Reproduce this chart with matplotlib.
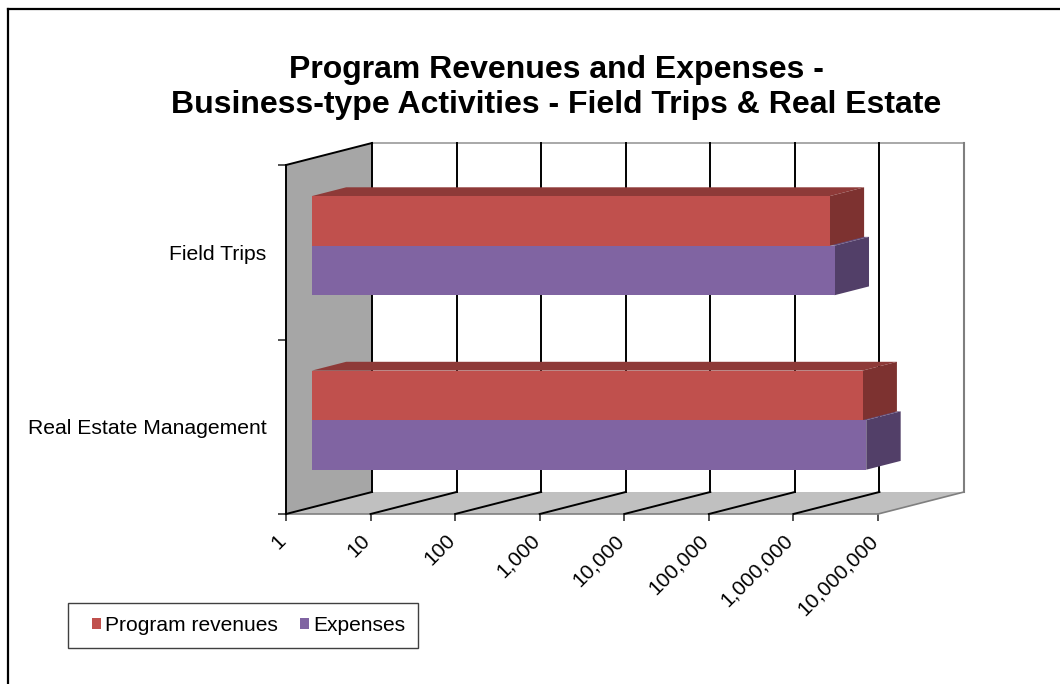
import numpy as np
import matplotlib.pyplot as plt
from matplotlib.patches import Polygon, Patch, Rectangle
from matplotlib.lines import Line2D
from matplotlib.transforms import ScaledTranslation, IdentityTransform

plt.rcParams['font.family'] = ['Liberation Sans', 'DejaVu Sans']

categories = ["Field Trips", "Real Estate Management"]
revenues = [1330000, 3250000]
expenses = [1520000, 3600000]
decades = [1, 10, 100, 1000, 10000, 100000, 1000000, 10000000]
tick_labels = ["1", "10", "100", "1,000", "10,000", "100,000", "1,000,000", "10,000,000"]

red, red_top, red_side = "#C0504D", "#8E3A38", "#7D3230"
pur, pur_top, pur_side = "#8064A2", "#65507F", "#523F68"

W, H = 1060, 684
fig = plt.figure(figsize=(W / 100, H / 100), dpi=100)
ax = fig.add_axes([286 / W, (H - 514) / H, 592 / W, 349 / H])
ax.set_xscale("log")
ax.set_xlim(1, 1e7)
ax.set_ylim(0, 2)

# depth of the fake 3d box, in pixels
DX, DY = 86, 22
D0, D1 = 0.3, 0.7  # bar front / back depth
ident = IdentityTransform()


def P(x, y, d):
    p = ax.transData.transform((x, y))
    return (p[0] + d * DX, p[1] + d * DY)


def poly(pts, fc, ec="none", lw=0, z=1):
    ax.add_patch(Polygon(pts, closed=True, fc=fc, ec=ec, lw=lw,
                         transform=ident, clip_on=False, zorder=z))


def line(a, b, c="black", lw=1.4, z=2):
    ax.add_line(Line2D([a[0], b[0]], [a[1], b[1]], color=c, lw=lw,
                       transform=ident, clip_on=False, zorder=z))


xmin, xmax = decades[0], decades[-1]
# walls and floor
poly([P(xmin, 0, 0), P(xmax, 0, 0), P(xmax, 0, 1), P(xmin, 0, 1)], "#C0C0C0")
poly([P(xmin, 0, 0), P(xmin, 2, 0), P(xmin, 2, 1), P(xmin, 0, 1)], "#A6A6A6")
poly([P(xmin, 0, 1), P(xmax, 0, 1), P(xmax, 2, 1), P(xmin, 2, 1)], "white")
line(P(xmin, 2, 1), P(xmax, 2, 1), c="#9A9A9A", lw=1.2)
line(P(xmax, 0, 1), P(xmax, 2, 1), c="#7F7F7F", lw=1.5)
line(P(xmax, 0, 0), P(xmax, 0, 1), c="#7F7F7F", lw=1.2)
line(P(xmin, 0, 0), P(xmax, 0, 0), c="#808080", lw=1.2)
for v in decades[:-1]:
    line(P(v, 0, 1), P(v, 2, 1))
    line(P(v, 0, 0), P(v, 0, 1))
line(P(xmin, 2, 0), P(xmin, 2, 1))

# bars
h = 0.284
front = ax.transData + ScaledTranslation(D0 * DX / 100, D0 * DY / 100, fig.dpi_scale_trans)
ypos = [1.5, 0.5]
for vals, off, fc, tc, sc in [(expenses, -h, pur, pur_top, pur_side),
                              (revenues, 0, red, red_top, red_side)]:
    for yc, v in zip(ypos, vals):
        y0, y1 = yc + off, yc + off + h
        poly([P(xmin, y1, D0), P(v, y1, D0), P(v, y1, D1), P(xmin, y1, D1)], tc, z=3)
        poly([P(v, y0, D0), P(v, y1, D0), P(v, y1, D1), P(v, y0, D1)], sc, z=3)
        ax.barh(yc + off, v - xmin, left=xmin, height=h, align="edge", color=fc,
                transform=front, zorder=4, clip_on=False)

# axes decoration
for s in ["top", "right", "bottom"]:
    ax.spines[s].set_visible(False)
ax.spines["left"].set_linewidth(1.4)
ax.spines["left"].set_zorder(5)
ax.set_xticks(decades, [""] * len(decades))
ax.minorticks_off()
ax.tick_params(axis="x", length=5, width=1.2, color="#333333")
lab_tr = ax.get_xaxis_transform() + ScaledTranslation(-0.10, -0.17, fig.dpi_scale_trans)
for v, s in zip(decades, tick_labels):
    ax.text(v, 0, s, transform=lab_tr, rotation=45, rotation_mode="anchor",
            ha="right", va="top", fontsize=15)
ax.set_yticks([0, 1, 2], ["", "", ""])
ax.set_yticks(ypos, categories, minor=True)
ax.tick_params(axis="y", which="major", length=6, width=1.2, color="#333333")
ax.tick_params(axis="y", which="minor", length=0, pad=14, labelsize=15.2)

fig.text(556 / W, 1 - 87.5 / H,
         "Program Revenues and Expenses -\nBusiness-type Activities - Field Trips & Real Estate",
         ha="center", va="center", fontsize=23, fontweight="bold", linespacing=1.25)

# legend with a plain frame
fig.add_artist(Rectangle((68 / W, 1 - 648 / H), 350 / W, 45 / H, fill=False,
                         ec="#404040", lw=1, transform=fig.transFigure))
handles = [Patch(fc=red, label="Program revenues"), Patch(fc=pur, label="Expenses")]
fig.legend(handles=handles, loc="center left", bbox_to_anchor=(92 / W, 1 - 625.5 / H),
           ncol=2, frameon=False, fontsize=15.1, borderaxespad=0, borderpad=0,
           handlelength=0.42, handleheight=0.42, handletextpad=0.2, columnspacing=1.05)

# outer chart border (only top and left are inside the picture)
fig.add_artist(Line2D([8 / W, 1], [1 - 9 / H, 1 - 9 / H], color="black", lw=1.6,
                      transform=fig.transFigure))
fig.add_artist(Line2D([8 / W, 8 / W], [0, 1 - 9 / H], color="black", lw=1.6,
                      transform=fig.transFigure))

plt.savefig("out.png", dpi=100)
